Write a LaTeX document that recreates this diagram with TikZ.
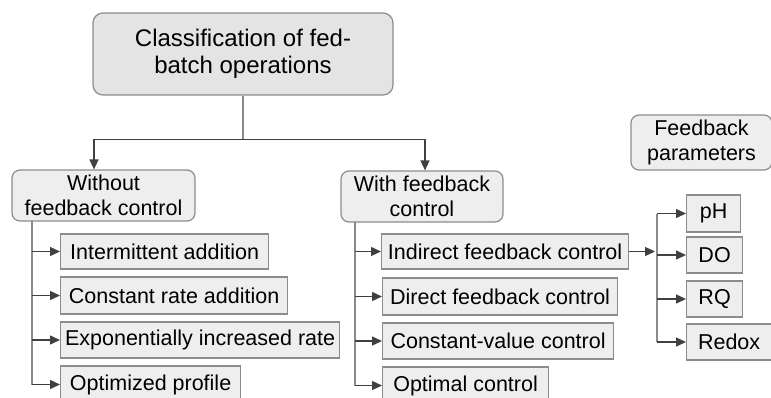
\documentclass[tikz,border=0pt]{standalone}
\usepackage{fontspec}
\setmainfont{Liberation Sans}
\usetikzlibrary{arrows.meta}
\definecolor{boxline}{HTML}{8C8C8C}
\definecolor{topfill}{HTML}{E4E4E4}
\definecolor{boxfill}{HTML}{EEEEEE}
\definecolor{wire}{HTML}{8A8A8A}
\tikzset{
  headbox/.style={draw=boxline, fill=topfill, rounded corners=10pt, line width=1.2pt,
    align=center, inner sep=0pt, font=\fontsize{24}{27}\selectfont},
  groupbox/.style={draw=boxline, fill=boxfill, rounded corners=8pt, line width=1.2pt,
    align=center, inner sep=0pt, font=\fontsize{21.5}{25}\selectfont},
  leafbox/.style={draw=boxline, fill=boxfill, line width=1.2pt, anchor=west,
    inner sep=0pt, font=\fontsize{21.5}{25}\selectfont},
  wireline/.style={draw=wire, line width=1.3pt},
  feed/.style={draw=black!75, line width=1.4pt, -{Triangle[length=10pt,width=9pt]}}
}
\begin{document}
\begin{tikzpicture}[x=1pt, y=-1pt]
\useasboundingbox (0,0) rectangle (771,397);
\clip (0,0) rectangle (771,397);

% top of the tree
\node[headbox, minimum width=300pt, minimum height=82pt] (title) at (243,54) {Classification of fed-\\batch operations};
\node[groupbox, minimum width=183pt, minimum height=51pt] (nofb) at (103.5,195.5) {Without\\feedback control};
\node[groupbox, minimum width=162pt, minimum height=51pt] (withfb) at (422,196.5) {With feedback\\control};
\node[groupbox, minimum width=141pt, minimum height=55pt] (params) at (701.5,142.5) {Feedback\\parameters};

\draw[wireline] (title.south) -- ++(0,44) coordinate (fork);
\draw[feed] (fork) -| ([xshift=-9.5pt]nofb.north);
\draw[feed] (fork) -| ([xshift=3pt]withfb.north);

% without feedback control
\node[leafbox, minimum width=208pt, minimum height=35pt] (inter) at (60,251.5) {Intermittent addition};
\node[leafbox, minimum width=227pt, minimum height=37pt] (const) at (60,295.5) {Constant rate addition};
\node[leafbox, minimum width=279pt, minimum height=36pt] (expo) at (60,340) {Exponentially increased rate};
\node[leafbox, minimum width=180pt, minimum height=37pt] (optprof) at (60,384.5) {Optimized profile};

\coordinate (lspine) at (32,221);
\draw[wireline] (lspine) -- (lspine |- optprof.west);
\foreach \c in {inter,const,expo,optprof}
  \draw[feed] (lspine |- \c.west) -- (\c.west);

% with feedback control
\node[leafbox, minimum width=247pt, minimum height=35pt] (indir) at (381,251.5) {Indirect feedback control};
\node[leafbox, minimum width=235pt, minimum height=37pt] (direct) at (382,296.5) {Direct feedback control};
\node[leafbox, minimum width=231pt, minimum height=36pt] (cval) at (382,341) {Constant-value control};
\node[leafbox, minimum width=166pt, minimum height=37pt] (optim) at (382,385.5) {Optimal control};

\coordinate (rspine) at (355,222);
\draw[wireline] (rspine) -- (rspine |- optim.west);
\foreach \c in {indir,direct,cval,optim}
  \draw[feed] (rspine |- \c.west) -- (\c.west);

% feedback parameters
\node[leafbox, minimum width=54pt, minimum height=37pt] (ph) at (686,213.5) {pH};
\node[leafbox, minimum width=56pt, minimum height=36pt] (do) at (686,255) {DO};
\node[leafbox, minimum width=56pt, minimum height=36pt] (rq) at (686,299) {RQ};
\node[leafbox, minimum width=85pt, minimum height=36pt] (redox) at (686,342) {Redox};

\coordinate (pspine) at (657,213.5);
\draw[feed] (indir.east) -- ([xshift=-2pt]pspine |- indir.east);
\draw[wireline] (pspine) -- (pspine |- redox.west);
\foreach \c in {ph,do,rq,redox}
  \draw[feed] (pspine |- \c.west) -- (\c.west);
\end{tikzpicture}
\end{document}
